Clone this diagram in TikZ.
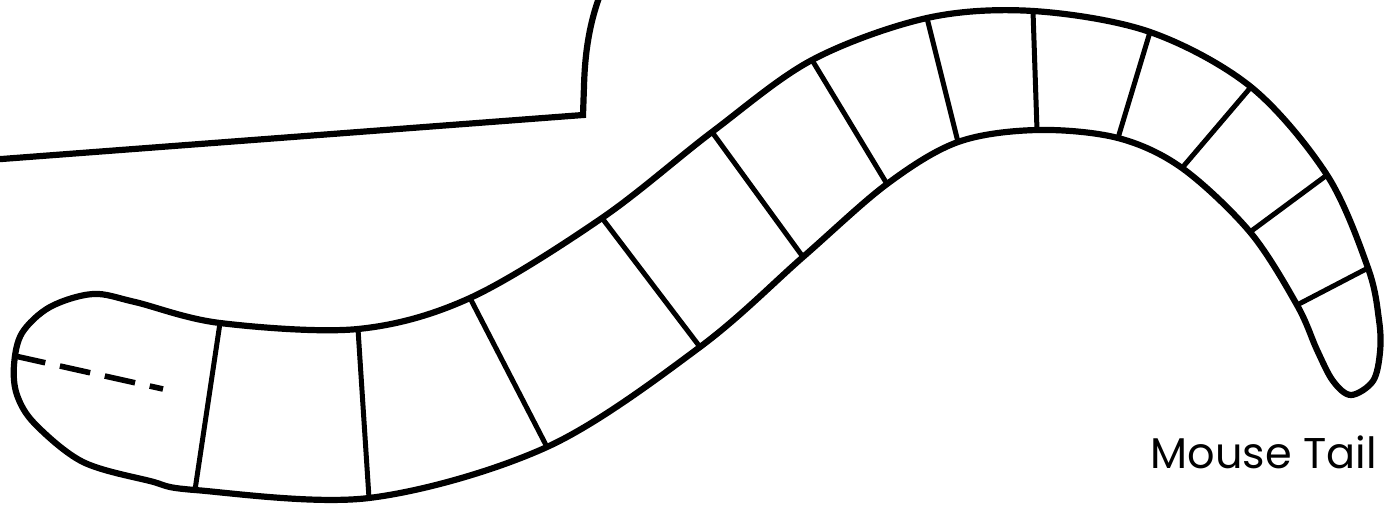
\documentclass[tikz,border=0pt]{standalone}
\usepackage{fontspec}
\setmainfont{Poppins}
\begin{document}
\begin{tikzpicture}[x=1pt,y=-1pt,
  outline/.style={line width=6.2pt, line join=round},
  rung/.style={line width=5pt},
  dashline/.style={line width=5.6pt, dash pattern=on 31pt off 15pt},
  label/.style={font=\fontsize{43}{43}\selectfont, inner sep=0pt}]
\useasboundingbox (0,0) rectangle (1393,507);
% top-left shape
\coordinate (p0) at (-5,159.5);
\coordinate (p1) at (583,115);
\coordinate (p2) at (584,86);
\coordinate (p3) at (600,-5);
\draw[outline, line join=miter] (p0) -- (p1) -- (p2) .. controls (585,50) and (590,22) .. (p3);
% rung end points (upper edge u, lower edge l)
\coordinate (u1) at (220,323);  \coordinate (l1) at (195,490);
\coordinate (u2) at (358,329);  \coordinate (l2) at (369,498);
\coordinate (u3) at (470,298);  \coordinate (l3) at (547,447);
\coordinate (u4) at (602,218);  \coordinate (l4) at (700,347);
\coordinate (u5) at (712,132);  \coordinate (l5) at (803,257);
\coordinate (u6) at (812,60);   \coordinate (l6) at (887,184);
\coordinate (u7) at (927,18);   \coordinate (l7) at (958,142);
\coordinate (u8) at (1033,11);  \coordinate (l8) at (1037,130);
\coordinate (u9) at (1150,32);  \coordinate (l9) at (1118,138);
\coordinate (u10) at (1251,87); \coordinate (l10) at (1182,168);
\coordinate (u11) at (1327,175);\coordinate (l11) at (1250,232);
\coordinate (u12) at (1368,268);\coordinate (l12) at (1297,305);
% tail outline
\draw[outline] plot[smooth cycle, tension=0.55] coordinates {
  (14,365) (22,333) (50,307) (93,294) (135,302) (u1) (u2)
  (u3) (u4) (u5) (u6) (u7) (u8) (u9) (u10) (u11) (u12)
  (1379,320) (1380,352) (1373,381) (1351,395) (1333,381) (1317,350) (l12)
  (l11) (l10) (l9) (l8) (l7) (l6) (l5) (l4) (l3) (l2)
  (l1) (150,481) (83,462) (35,424) (17,395)};
% rungs
\foreach \i in {1,...,12} \draw[rung] (u\i) -- (l\i);
% dashed line
\coordinate (d1) at (15,356);
\coordinate (d2) at (163,389);
\draw[dashline] (d1) -- (d2);
% label
\node[label, anchor=base east] (lbl) at (1377,468) {Mouse Tail};
\end{tikzpicture}
\end{document}
